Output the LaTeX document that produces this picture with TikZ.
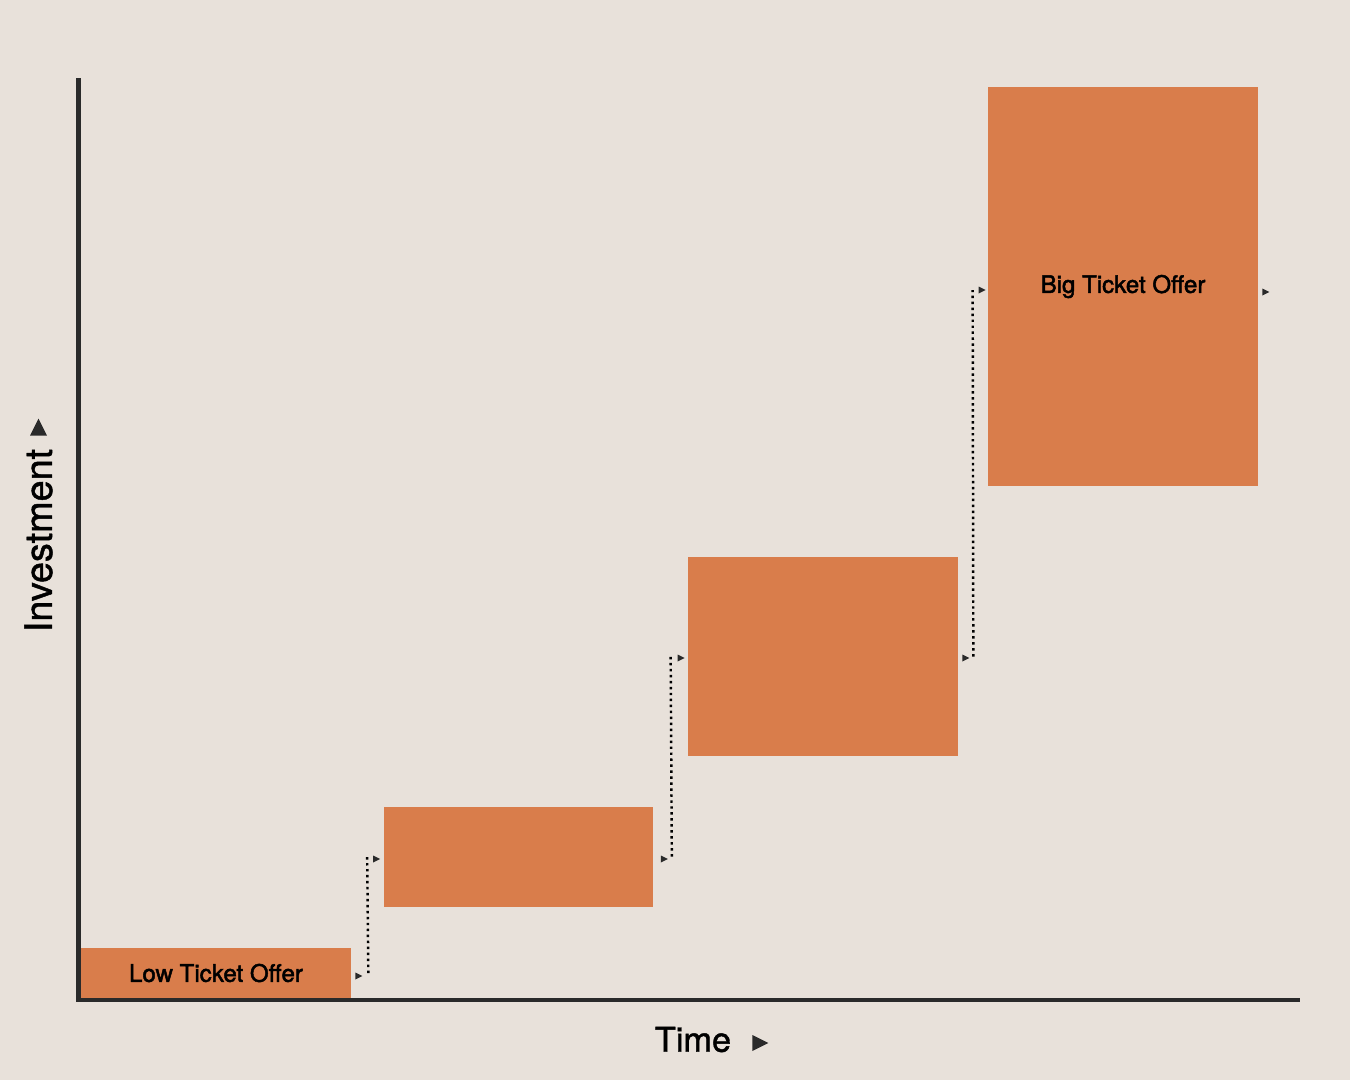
\documentclass[tikz,border=0pt]{standalone}
\usepackage{fontspec}
\setmainfont{TeX Gyre Heros}
\newfontfamily\midfont[FakeBold=2]{TeX Gyre Heros}
\newfontfamily\axisfont[FakeBold=1.2]{TeX Gyre Heros}
\usepackage{tikz}
\usetikzlibrary{calc,positioning}
\definecolor{paper}{HTML}{E8E1DA}
\definecolor{clay}{HTML}{D97D4B}
\definecolor{ink}{HTML}{2A2A2A}

\begin{document}
\begin{tikzpicture}[x=0.02cm,y=-0.02cm]
                      \tikzstyle{offer}=[fill=clay,draw=none,inner sep=0pt,minimum width=5.4cm,font=\midfont\fontsize{13.7}{15}\selectfont]
                      \tikzstyle{axis}=[draw=ink,line width=2.5pt]
                      \tikzstyle{hop}=[draw=black,line width=1.4pt,dash pattern=on 1.4pt off 2pt]
                      \tikzstyle{axislabel}=[inner sep=0pt,font=\axisfont\fontsize{19.5}{21}\selectfont]
                      \tikzset{tip/.pic={\fill[ink] (0,-3.5) -- (7,0) -- (0,3.5) -- cycle;}}
                      \fill[paper] (0,0) rectangle (1350,1080);
                      % axes
                      \coordinate (top) at (78.5,78);
                      \coordinate (origin) at (78.5,1000);
                      \coordinate (right) at (1300,1000);
                      \draw[axis] (top) -- (origin) -- (right);
                      \node[axislabel] (time) at (693,1039.5) {Time};
                      \node[axislabel,rotate=90,font=\axisfont\fontsize{21.5}{23}\selectfont] (invest) at (38.5,540.5) {Investment};
                      \fill[ink] ($(time.east)+(21,-4.5)$) -- ++(16,8) -- ++(-16,8) -- cycle;
                      \fill[ink] ($(invest.east)+(-8.5,-13)$) -- ++(8.5,-17) -- ++(8.5,17) -- cycle;
                      % offers
                      \node[offer,minimum height=1cm] (low) at (216,973) {\raisebox{-1.7pt}{Low Ticket Offer}};
                      \node[offer,minimum height=2cm] (b) at (518.5,856.5) {};
                      \node[offer,minimum height=4cm] (c) at (823,656.5) {};
                      \node[offer,minimum height=8cm] (big) at (1123,286.5) {\raisebox{-1.7pt}{Big Ticket Offer}};
                      % steps
                      \path ($(low.east)+(4,3)$) pic {tip};
                      \draw[hop] ($(low.east)+(17,0)$) -- ($(b.west)+(-16,0)$);
                      \path ($(b.west)+(-10,2.5)$) pic {tip};
                      \path ($(b.east)+(7,2.5)$) pic {tip};
                      \draw[hop] ($(b.east)+(18,0)$) -- ($(c.west)+(-17,0)$);
                      \path ($(c.west)+(-10,1.5)$) pic {tip};
                      \path ($(c.east)+(4,1.5)$) pic {tip};
                      \draw[hop] ($(c.east)+(15,0)$) -- ($(big.west)+(-15,3.5)$);
                      \path ($(big.west)+(-9,3.5)$) pic {tip};
                      \path ($(big.east)+(4,5.5)$) pic {tip};
                  \end{tikzpicture}
\end{document}
